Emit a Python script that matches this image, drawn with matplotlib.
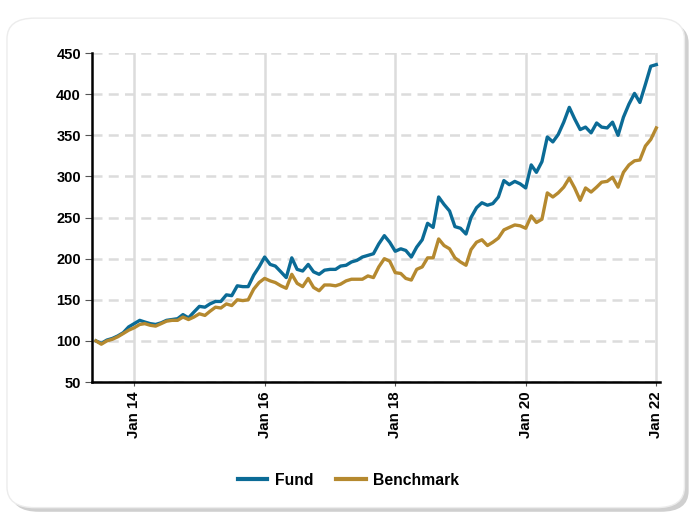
import pandas as pd
import matplotlib
matplotlib.use("Agg")
import matplotlib.pyplot as plt
import matplotlib.dates as mdates
from matplotlib.patches import FancyBboxPatch

# monthly index values, Jun 2013 - Jan 2022
start = "2013-06-01"
end = "2022-01-01"
fund = [100, 97, 101, 103, 106, 110, 117, 121, 125, 123, 121, 120, 122, 125, 126, 127,
        132, 128, 135, 142, 141, 145, 148, 148, 156, 155, 167, 166, 166, 180, 190, 202,
        193, 191, 184, 177, 201, 187, 185, 193, 184, 181, 186, 187, 187, 191, 192, 196,
        198, 202, 204, 206, 218, 228, 220, 209, 212, 210, 202, 214, 223, 243, 238, 275,
        266, 258, 239, 237, 230, 250, 262, 268, 265, 267, 275, 295, 290, 294, 291, 286,
        314, 305, 318, 348, 342, 351, 366, 384, 370, 357, 360, 353, 365, 360, 359, 366,
        350, 372, 388, 401, 390, 412, 434, 436]
benchmark = [100, 96, 100, 102, 105, 109, 113, 116, 120, 121, 119, 118, 121, 124, 125, 125,
             129, 126, 129, 133, 131, 136, 141, 140, 145, 143, 150, 149, 150, 163, 171, 176,
             173, 171, 167, 164, 181, 170, 166, 176, 165, 161, 168, 168, 167, 169, 173, 175,
             175, 175, 179, 177, 190, 200, 197, 183, 182, 176, 174, 187, 190, 201, 201, 224,
             216, 212, 201, 196, 192, 211, 220, 223, 216, 220, 225, 235, 238, 241, 240, 237,
             252, 244, 248, 280, 275, 280, 287, 298, 286, 271, 286, 281, 287, 293, 294, 299,
             287, 305, 314, 319, 320, 337, 345, 359]

dates = pd.date_range(start, end, freq="MS")
df = pd.DataFrame({"Fund": fund, "Benchmark": benchmark}, index=dates)

plt.rcParams["font.family"] = ["Liberation Sans", "DejaVu Sans"]
plt.rcParams["font.weight"] = "bold"

fig = plt.figure(figsize=(6.97, 5.18), dpi=100)
fig.patch.set_facecolor("white")

# card background with shadow
shadow = FancyBboxPatch((0.016, 0.012), 0.972, 0.945, boxstyle="round,pad=0,rounding_size=0.04",
                        transform=fig.transFigure, facecolor="#cfcfcf", edgecolor="none", zorder=-3)
card = FancyBboxPatch((0.010, 0.020), 0.972, 0.945, boxstyle="round,pad=0,rounding_size=0.04",
                      transform=fig.transFigure, facecolor="white", edgecolor="#ececec", lw=1, zorder=-2)
fig.patches.extend([shadow, card])

ax = fig.add_axes([0.132, 0.2625, 0.815, 0.635])
ax.patch.set_alpha(0)

ax.plot(df.index, df["Fund"], color="#0b6b96", lw=2.4, label="Fund", solid_joinstyle="round")
ax.plot(df.index, df["Benchmark"], color="#b5892f", lw=2.4, label="Benchmark", solid_joinstyle="round")

ax.set_ylim(50, 450)
ax.set_yticks(range(50, 451, 50))
ax.set_xlim(pd.Timestamp("2013-05-10"), pd.Timestamp("2022-01-22"))
ax.xaxis.set_major_locator(mdates.YearLocator(2, month=1, day=1))
ax.xaxis.set_major_formatter(mdates.DateFormatter("Jan %y"))

ax.grid(axis="y", color="#dcdcdc", lw=1.8, ls=(0, (4, 2.5)))
ax.grid(axis="x", color="#dcdcdc", lw=1.8)
ax.set_axisbelow(True)

for s in ["top", "right"]:
    ax.spines[s].set_visible(False)
for s in ["left", "bottom"]:
    ax.spines[s].set_linewidth(1.8)
    ax.spines[s].set_color("black")

ax.tick_params(axis="y", length=5, width=0.8, color="#555555", pad=3, labelsize=10.5)
ax.tick_params(axis="x", length=3, width=0.8, color="#555555", pad=4, labelsize=10.8,
               labelrotation=90)

leg = fig.legend(loc="center", bbox_to_anchor=(0.5, 0.073), ncol=2, frameon=False,
                 prop={"weight": "bold", "size": 11.3},
                 handlelength=1.9, columnspacing=1.4, handletextpad=0.5)
for h in leg.get_lines():
    h.set_linewidth(3)

fig.savefig("out.png", dpi=100)
